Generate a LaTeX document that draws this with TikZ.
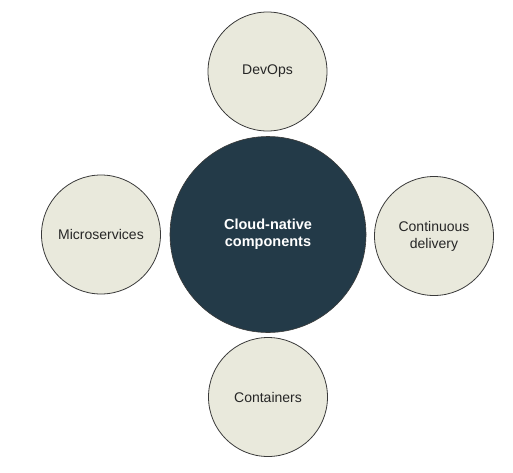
\documentclass[tikz,border=0pt]{standalone}
\usepackage{fontspec}
\setmainfont{Liberation Sans}
\definecolor{beige}{HTML}{E9E9DC}
\definecolor{navy}{HTML}{233A48}
\definecolor{rim}{HTML}{3A3A3A}
\begin{document}
\begin{tikzpicture}[x=1pt,y=-1pt,
  small/.style={circle,draw=rim,line width=0.8pt,fill=beige,minimum size=119pt,inner sep=0pt,align=center,
    font=\fontsize{14}{17}\selectfont,text=black!85},
  big/.style={circle,draw=rim,line width=0.6pt,fill=navy,minimum size=196pt,inner sep=0pt,align=center,
    font=\fontsize{14.5}{17}\selectfont\bfseries,text=white}]
\useasboundingbox (0,0) rectangle (513,472);
\node[big] (core) at (268,234.5) {Cloud-native\\components};
\node[small] (devops) at (267.5,71.5) {DevOps};
\node[small] (micro) at (101,234.5) {Microservices};
\node[small] (cd) at (434,236) {Continuous\\delivery};
\node[small] (cont) at (268,397) {Containers};
\end{tikzpicture}
\end{document}
